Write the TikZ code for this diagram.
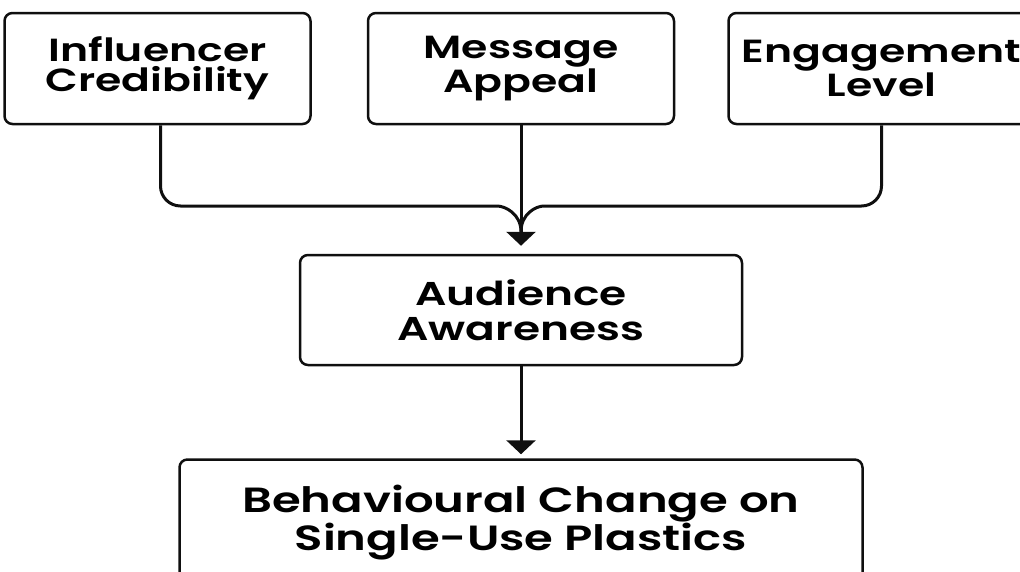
\documentclass[tikz,border=0pt]{standalone}
\usepackage{fontspec}
\setmainfont{Poppins}[BoldFont=Poppins SemiBold, FakeStretch=1.33]
\usetikzlibrary{
  arrows.meta, % for triangle arrow heads
  positioning, % for relative node positioning
}
\definecolor{ink}{RGB}{15, 15, 15}

\begin{document}
\begin{tikzpicture}[x=1pt, y=-1pt,
    factor/.style={draw=ink, line width=2.5pt, rounded corners=8pt,
      minimum width=306pt, minimum height=111pt, align=center,
      inner sep=0pt, font=\bfseries\fontsize{32}{30}\selectfont},
    outcome/.style={factor, minimum width=442pt, minimum height=110pt,
      font=\bfseries\fontsize{33}{35}\selectfont},
    link/.style={draw=ink, line width=3pt},
    head/.style={-{Triangle[length=14pt, width=29pt]}},
  ]
    \useasboundingbox (0,0) rectangle (1020,571);

    % three drivers on top
    \node[factor] (msg) at (521,68.5) {Message\\Appeal};
    \node[factor, left=55pt of msg] (infl) {Influencer\\Credibility};
    \node[factor, right=52pt of msg] (eng) {Engagement\\Level};

    % mediator and final outcome
    \node[outcome] (aud) at (521,310) {Audience\\Awareness};
    \node[outcome, below=92pt of aud, minimum width=683pt, minimum height=126pt,
      font=\bfseries\fontsize{35}{38}\selectfont]
      (beh) {Behavioural Change on\\Single-Use Plastics};

    % merge point above the mediator
    \coordinate (tip) at ([yshift=8pt]aud.north);
    \coordinate (base) at ([yshift=22pt]aud.north);
    \coordinate (lbend) at (477,206);
    \coordinate (rbend) at (564,206);

    \draw[link] ([xshift=3pt]infl.south) [rounded corners=20pt] |- (lbend)
      [sharp corners] .. controls +(28,0) and +(0,-18) .. (base);
    \draw[link] (eng.south) [rounded corners=20pt] |- (rbend)
      [sharp corners] .. controls +(-28,0) and +(0,-18) .. (base);
    \draw[link, head] (msg.south) -- (tip);

    \draw[link, head] (aud.south) -- ([yshift=4pt]beh.north);
\end{tikzpicture}
\end{document}
